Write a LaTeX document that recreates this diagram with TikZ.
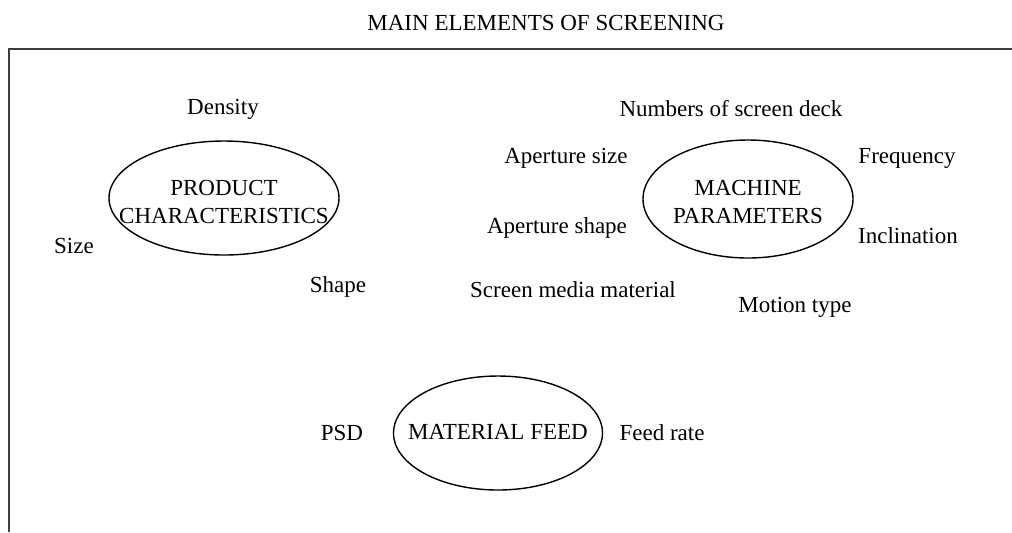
\documentclass[tikz,border=0pt]{standalone}
\usepackage{fontspec}
\setmainfont{Liberation Serif}

\tikzset{
  group/.style={inner sep=0pt, align=center},
  ring/.style={line width=0.7pt},
  factor/.style={anchor=base, inner sep=0pt}
}

\begin{document}
\begin{tikzpicture}[x=0.5pt, y=-0.5pt, font=\fontsize{11.5}{14}\selectfont]
        \useasboundingbox (0, 0) rectangle (1012, 532);

        % Frame
        \draw [line width=1.1pt, black!75] (1012, 49) -- (9, 49) -- (9, 532);
        \node [factor] (title) at (546, 30) {MAIN ELEMENTS OF SCREENING};

        % Product
        \node [group] (product) at (224, 202) {PRODUCT\\CHARACTERISTICS};
        \draw [ring] (224, 198) ellipse [x radius=115, y radius=57];
        \node [factor] (density) at (223, 114) {Density};
        \node [factor] (size) at (74, 253) {Size};
        \node [factor] (shape) at (338, 292) {Shape};

        % Machine
        \node [group] (machine) at (748, 202) {MACHINE\\PARAMETERS};
        \draw [ring] (748, 199) ellipse [x radius=105, y radius=59];
        \node [factor] (decks) at (731, 116) {Numbers of screen deck};
        \node [factor] (apsize) at (566, 163) {Aperture size};
        \node [factor] (freq) at (907, 163) {Frequency};
        \node [factor] (apshape) at (557, 233) {Aperture shape};
        \node [factor] (incl) at (908, 243) {Inclination};
        \node [factor] (media) at (573, 297) {Screen media material};
        \node [factor] (motion) at (795, 312) {Motion type};

        % Feed
        \node [group] (feed) at (498, 432) {MATERIAL FEED};
        \draw [ring] (498, 433) ellipse [x radius=104.5, y radius=57];
        \node [factor] (psd) at (342, 440) {PSD};
        \node [factor] (rate) at (662, 440) {Feed rate};
\end{tikzpicture}
\end{document}
